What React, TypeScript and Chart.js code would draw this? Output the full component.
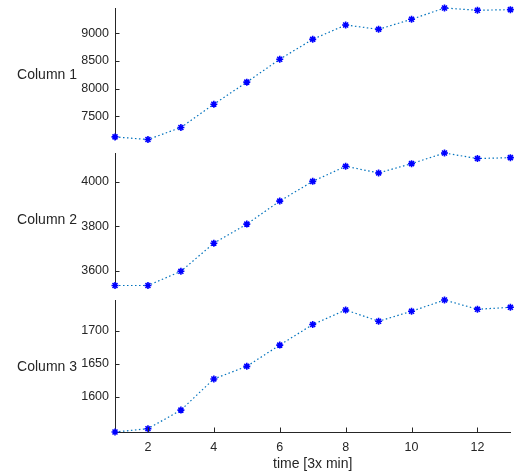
import React, { useEffect, useRef } from "react";
import { Chart, registerables } from "chart.js";
Chart.register(...registerables);

// ---- data ----
const xValues = [1, 2, 3, 4, 5, 6, 7, 8, 9, 10, 11, 12, 13];
const xTicks = [2, 4, 6, 8, 10, 12];
const col1 = [7125, 7078, 7295, 7717, 8116, 8531, 8891, 9150, 9072, 9254, 9458, 9417, 9428];
const col2 = [3533, 3533, 3597, 3724, 3810, 3914, 4003, 4071, 4041, 4083, 4131, 4106, 4110];
const col3 = [1547, 1552, 1580, 1627, 1646, 1678, 1709, 1731, 1714, 1729, 1746, 1732, 1735];
const yTicks1 = [7500, 8000, 8500, 9000];
const yTicks2 = [3600, 3800, 4000];
const yTicks3 = [1600, 1650, 1700];
const seriesLabels = ["Column 1", "Column 2", "Column 3"];
const xTitle = "time [3x min]";

// ---- style / layout ----
const W = 516;
const H = 476;
const FONT = "'Liberation Sans', Arial, Helvetica, sans-serif";
const TEXT = "#262626";
const LINE = "#0072BD";
const MARK = "#0000FF";
const panels = [
  { top: 8, bottom: 139.5 },
  { top: 153, bottom: 285.5 },
  { top: 300, bottom: 432 },
];

function buildConfig(values: number[], yTicks: number[], label: string, idx: number): any {
  const p = panels[idx];
  const showX = idx === 2;
  const decor = {
    id: "decor" + idx,
    afterDraw(chart: any) {
      const ctx = chart.ctx;
      const { left, top, bottom } = chart.chartArea;
      ctx.save();
      ctx.strokeStyle = TEXT;
      ctx.lineWidth = 1;
      const ys = chart.scales.y;
      yTicks.forEach((v) => {
        const py = Math.round(ys.getPixelForValue(v)) + 0.5;
        ctx.beginPath();
        ctx.moveTo(left, py);
        ctx.lineTo(left + 4.5, py);
        ctx.stroke();
      });
      if (showX) {
        const xs = chart.scales.x;
        xTicks.forEach((v) => {
          const px = Math.round(xs.getPixelForValue(v)) + 0.5;
          ctx.beginPath();
          ctx.moveTo(px, bottom);
          ctx.lineTo(px, bottom - 4.5);
          ctx.stroke();
        });
      }
      ctx.font = `14px ${FONT}`;
      ctx.fillStyle = TEXT;
      ctx.textAlign = "right";
      ctx.textBaseline = "middle";
      ctx.fillText(label, 77, (top + bottom) / 2 + 1);
      ctx.restore();
    },
  };
  return {
    type: "line",
    data: {
      datasets: [
        {
          data: xValues.map((x, i) => ({ x, y: values[i] })),
          borderColor: LINE,
          borderWidth: 1.2,
          borderDash: [1.5, 2.5],
          tension: 0,
          pointStyle: "star",
          pointRadius: 3.5,
          pointBorderWidth: 1.6,
          pointBorderColor: MARK,
          pointBackgroundColor: MARK,
          clip: false,
          fill: false,
        },
      ],
    },
    options: {
      responsive: false,
      animation: false,
      devicePixelRatio: 1,
      events: [],
      layout: {
        padding: {
          left: 0,
          right: 3,
          top: p.top,
          bottom: showX ? 0 : H - p.bottom,
        },
      },
      plugins: { legend: { display: false }, tooltip: { enabled: false }, title: { display: false } },
      scales: {
        x: {
          type: "linear",
          min: xValues[0],
          max: xValues[xValues.length - 1],
          display: showX,
          afterBuildTicks: (s: any) => {
            s.ticks = xTicks.map((v) => ({ value: v }));
          },
          afterFit: (s: any) => {
            if (showX) s.height = 44;
            s.paddingLeft = 0;
            s.paddingRight = 0;
          },
          grid: { display: false, drawTicks: false },
          border: { display: true, color: TEXT, width: 1 },
          ticks: {
            color: TEXT,
            font: { family: FONT, size: 12.5 },
            padding: 8,
            maxRotation: 0,
          },
          title: {
            display: showX,
            text: xTitle,
            color: TEXT,
            font: { family: FONT, size: 14 },
            padding: { top: 0, bottom: 3.6 },
          },
        },
        y: {
          type: "linear",
          min: Math.min(...values),
          max: Math.max(...values),
          afterBuildTicks: (s: any) => {
            s.ticks = yTicks.map((v) => ({ value: v }));
          },
          afterFit: (s: any) => {
            s.width = 115;
            s.paddingTop = 0;
            s.paddingBottom = 0;
          },
          grid: { display: false, drawTicks: false },
          border: { display: true, color: TEXT, width: 1 },
          ticks: {
            color: TEXT,
            font: { family: FONT, size: 12.5 },
            padding: 6,
            callback: (v: any) => String(v),
          },
        },
      },
    },
    plugins: [decor],
  };
}

function Panel({ values, yTicks, label, idx }: { values: number[]; yTicks: number[]; label: string; idx: number }) {
  const ref = useRef<HTMLCanvasElement | null>(null);
  useEffect(() => {
    if (!ref.current) return;
    const chart = new Chart(ref.current, buildConfig(values, yTicks, label, idx));
    return () => chart.destroy();
  }, []);
  return (
    <canvas
      ref={ref}
      width={W}
      height={H}
      style={{ position: "absolute", left: 0, top: 0, width: W, height: H }}
    />
  );
}

export default function App() {
  return (
    <div style={{ position: "absolute", left: 0, top: 0, width: W, height: H, background: "#fff" }}>
      <Panel values={col1} yTicks={yTicks1} label={seriesLabels[0]} idx={0} />
      <Panel values={col2} yTicks={yTicks2} label={seriesLabels[1]} idx={1} />
      <Panel values={col3} yTicks={yTicks3} label={seriesLabels[2]} idx={2} />
    </div>
  );
}
